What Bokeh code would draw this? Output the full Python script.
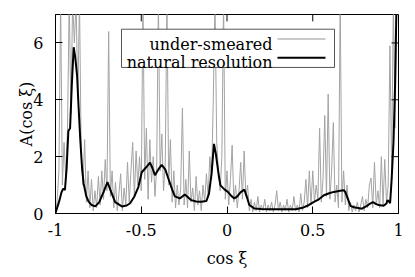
import numpy as np
from bokeh.plotting import figure
from bokeh.models import Range1d, FixedTicker, Label
from bokeh.embed import file_html
from bokeh.resources import INLINE

# ---------------- data ----------------
# under-smeared distribution, sampled every 0.01 in cos(xi) from -1 to 1
smeared_x = np.round(np.linspace(-1.0, 1.0, 201), 2)
smeared_y = [
    0.0, 0.5, 1.5, 7.5, 1.0, 2.5, 1.2, 3.0, 7.5, 3.5,      # -1.00 .. -0.91
    7.5, 6.0, 7.5, 4.0, 7.5, 2.0, 1.0, 2.6, 0.4, 1.5,      # -0.90 .. -0.81
    0.2, 1.2, 0.1, 0.8, 0.2, 1.3, 0.3, 1.5, 0.5, 1.9,      # -0.80 .. -0.71
    0.8, 6.4, 0.6, 1.5, 0.2, 1.1, 0.1, 0.7, 1.4, 0.1,      # -0.70 .. -0.61
    0.9, 0.3, 1.8, 0.4, 1.5, 2.5, 0.6, 2.2, 1.0, 2.0,      # -0.60 .. -0.51
    0.8, 7.5, 1.2, 3.0, 0.5, 2.6, 1.1, 2.0, 0.6, 1.6,      # -0.50 .. -0.41
    7.5, 1.5, 2.8, 0.8, 1.8, 7.5, 1.0, 2.6, 0.4, 1.5,      # -0.40 .. -0.31
    0.2, 1.0, 0.3, 0.9, 3.7, 0.3, 1.2, 0.2, 2.2, 0.4,      # -0.30 .. -0.21
    0.9, 0.1, 1.3, 0.3, 0.8, 0.1, 1.0, 0.4, 1.4, 0.6,      # -0.20 .. -0.11
    2.0, 1.2, 4.0, 7.5, 2.5, 1.5, 0.8, 2.0, 7.5, 0.5,      # -0.10 .. -0.01
    1.5, 0.3, 1.2, 2.4, 0.4, 1.0, 0.2, 0.8, 1.8, 0.5,      #  0.00 ..  0.09
    2.2, 0.6, 1.0, 0.1, 0.5, 0.05, 0.4, 0.1, 0.6, 0.05,    #  0.10 ..  0.19
    0.3, 0.1, 0.5, 0.05, 0.3, 0.1, 0.4, 0.05, 0.3, 0.8,    #  0.20 ..  0.29
    0.1, 0.4, 0.05, 0.3, 0.1, 0.5, 0.05, 0.3, 0.1, 0.6,    #  0.30 ..  0.39
    0.1, 0.3, 0.05, 0.7, 0.1, 0.4, 1.2, 0.2, 1.5, 0.3,     #  0.40 ..  0.49
    1.5, 0.4, 1.0, 0.5, 3.0, 0.4, 1.2, 3.45, 0.6, 4.2,     #  0.50 ..  0.59
    0.5, 1.5, 3.2, 0.4, 1.0, 0.2, 7.5, 0.4, 1.5, 0.3,      #  0.60 ..  0.69
    1.0, 0.1, 0.4, 0.05, 0.3, 0.1, 0.4, 0.05, 0.3, 0.6,    #  0.70 ..  0.79
    0.1, 0.5, 0.2, 1.0, 1.25, 0.2, 1.8, 0.3, 0.8, 0.2,     #  0.80 ..  0.89
    2.0, 0.3, 1.9, 0.4, 1.0, 5.9, 1.5, 7.5, 3.0, 7.5,      #  0.90 ..  0.99
    7.5,                                                   #  1.00
]

# natural-resolution distribution (smooth curve)
natural_x = [
    -1.0, -0.98, -0.965, -0.955, -0.945, -0.935, -0.925, -0.915, -0.905, -0.894,
    -0.885, -0.874, -0.865, -0.855, -0.845, -0.836, -0.82, -0.807, -0.79, -0.768,
    -0.745, -0.72, -0.697, -0.675, -0.652, -0.613, -0.585, -0.565, -0.54, -0.517,
    -0.497, -0.475, -0.449, -0.435, -0.42, -0.40, -0.381, -0.36, -0.343, -0.32,
    -0.304, -0.275, -0.246, -0.208, -0.18, -0.15, -0.12, -0.105, -0.09, -0.076,
    -0.065, -0.057, -0.047, -0.038, -0.015, 0.005, 0.025, 0.043, 0.06, 0.08,
    0.101, 0.115, 0.130, 0.159, 0.2, 0.25, 0.304, 0.35, 0.401, 0.44,
    0.478, 0.507, 0.536, 0.565, 0.6, 0.623, 0.66, 0.681, 0.69, 0.7,
    0.72, 0.74, 0.758, 0.787, 0.816, 0.835, 0.851, 0.87, 0.884, 0.913,
    0.93, 0.936, 0.945, 0.951, 0.96, 0.971, 0.98, 0.987, 0.995,
]
natural_y = [
    0.02, 0.4, 0.75, 0.87, 0.83, 1.6, 2.9, 3.0, 4.5, 5.85,
    5.5, 4.84, 3.7, 2.55, 1.6, 1.05, 0.6, 0.42, 0.3, 0.25,
    0.4, 0.75, 1.1, 0.75, 0.4, 0.25, 0.28, 0.36, 0.6, 0.93,
    1.45, 1.6, 1.79, 1.6, 1.35, 1.55, 1.71, 1.55, 1.25, 0.85,
    0.6, 0.53, 0.67, 0.47, 0.42, 0.41, 0.44, 0.7, 1.4, 2.45,
    2.1, 1.74, 1.3, 0.99, 0.85, 0.76, 0.62, 0.53, 0.6, 0.75,
    0.84, 0.6, 0.3, 0.18, 0.16, 0.15, 0.15, 0.15, 0.15, 0.2,
    0.3, 0.41, 0.5, 0.64, 0.72, 0.76, 0.8, 0.82, 0.75, 0.59,
    0.27, 0.22, 0.2, 0.17, 0.27, 0.35, 0.4, 0.33, 0.3, 0.27,
    0.35, 0.47, 0.42, 0.36, 1.2, 2.54, 4.5, 6.9, 8.5,
]

x_ticks = [-1, -0.5, 0, 0.5, 1]
x_tick_labels = {-1: "-1", -0.5: "-0.5", 0: "0", 0.5: "0.5", 1: "1"}
y_ticks = [0, 2, 4, 6]
y_tick_labels = {0: "0", 2: "2", 4: "4", 6: "6"}
series_names = ["under-smeared", "natural resolution"]
series_colors = ["#b8b8b8", "black"]
series_widths = [1.5, 2]

FONT = "DejaVu Serif"
FS = "16px"

X0, X1, Y0, Y1 = -1.0, 1.0, 0.0, 7.0
W, H = 410, 270
ML, MR, MT, MB = 55, 12, 14, 53
FW, FH = W - ML - MR, H - MT - MB
TICK = 7

def fx(px):  # horizontal canvas pixel -> data
    return X0 + (px - ML) / FW * (X1 - X0)

def fy(py):  # vertical canvas pixel -> data
    return Y1 - (py - MT) / FH * (Y1 - Y0)

# ---------------- figure ----------------
p = figure(width=W, height=H, output_backend="svg", toolbar_location=None,
           x_range=Range1d(X0, X1), y_range=Range1d(Y0, Y1),
           min_border_left=ML, min_border_right=MR, min_border_top=MT,
           min_border_bottom=MB)
p.background_fill_color = "white"
p.border_fill_color = "white"
p.outline_line_color = "black"
p.outline_line_width = 1
p.grid.visible = False

p.line(smeared_x, smeared_y, line_color="#a3a3a3", line_width=1)
p.line(natural_x, natural_y, line_color="black", line_width=2)

# mirrored inward ticks on the top and right frame edges
dx = TICK * (X1 - X0) / FW
dy = TICK * (Y1 - Y0) / FH
p.segment(x0=x_ticks, y0=[Y1] * len(x_ticks), x1=x_ticks, y1=[Y1 - dy] * len(x_ticks),
          line_color="black", line_width=1)
p.segment(x0=[X1] * len(y_ticks), y0=y_ticks, x1=[X1 - dx] * len(y_ticks), y1=y_ticks,
          line_color="black", line_width=1)

def style_axis(ax, ticks, labels):
    ax.ticker = FixedTicker(ticks=ticks)
    ax.major_label_overrides = labels
    ax.major_tick_in = TICK
    ax.major_tick_out = 0
    ax.minor_tick_in = 0
    ax.minor_tick_out = 0
    ax.major_tick_line_color = "black"
    ax.axis_line_color = "black"
    ax.major_label_text_font = FONT
    ax.major_label_text_font_size = FS
    ax.major_label_text_color = "black"
    ax.axis_label_text_font = FONT
    ax.axis_label_text_font_size = FS
    ax.axis_label_text_font_style = "normal"
    ax.axis_label_text_color = "black"

style_axis(p.xaxis[0], x_ticks, x_tick_labels)
style_axis(p.yaxis[0], y_ticks, y_tick_labels)
p.xaxis[0].axis_label = "cos ξ"
p.yaxis[0].axis_label = "A(cos ξ)"
p.xaxis[0].major_label_standoff = 10
p.xaxis[0].axis_label_standoff = 10
p.yaxis[0].major_label_standoff = 12
p.yaxis[0].axis_label_standoff = -6

# ---------------- legend (gnuplot style: text, then line sample) ----------------
p.quad(left=fx(121), right=fx(334), top=fy(29), bottom=fy(68),
       fill_color="white", fill_alpha=1.0, line_color="#555555", line_width=1)
text_baselines = [45, 63]
sample_rows = [39, 58]
for name, col, lw, tb, sr in zip(series_names, series_colors, series_widths,
                                 text_baselines, sample_rows):
    p.add_layout(Label(x=fx(272), y=fy(tb), text=name, text_align="right",
                       text_baseline="alphabetic", text_font=FONT,
                       text_font_size=FS, text_color="black"))
    p.line([fx(277), fx(325)], [fy(sr), fy(sr)], line_color=col, line_width=lw)

open("out.html", "w").write(file_html(p, INLINE))
